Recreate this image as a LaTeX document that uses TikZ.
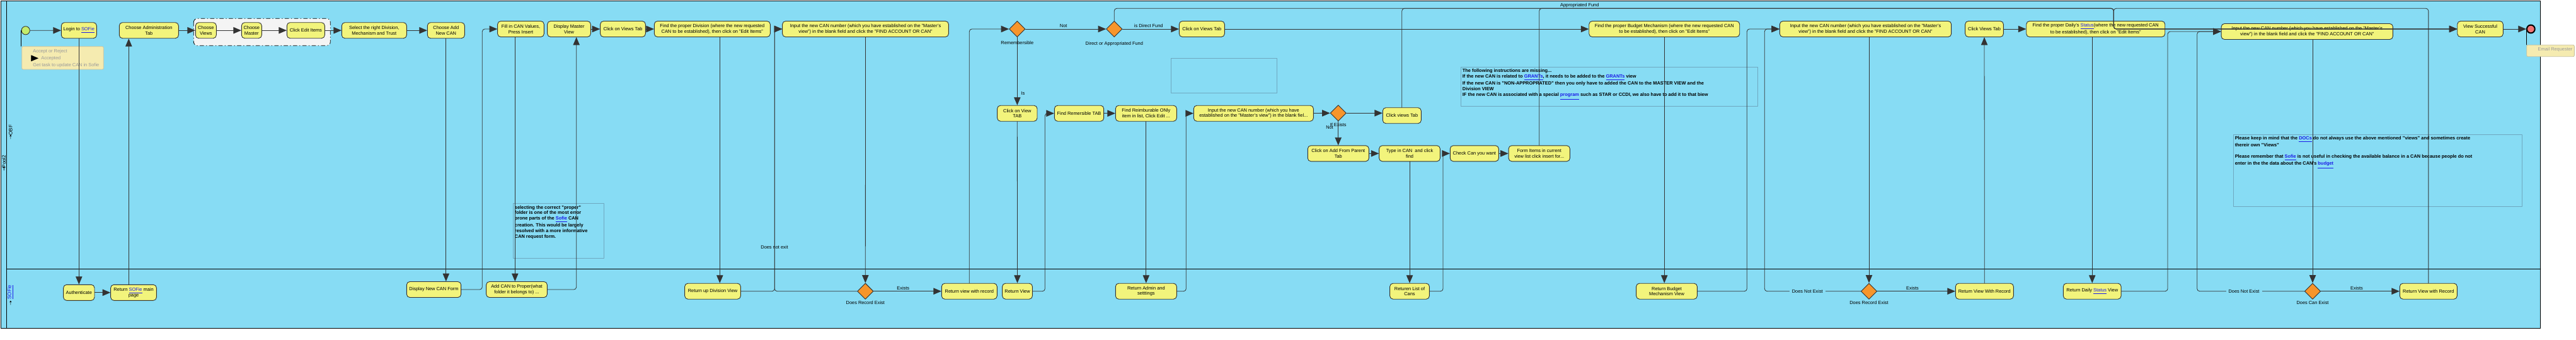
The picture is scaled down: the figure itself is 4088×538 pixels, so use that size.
\documentclass[tikz,border=0pt]{standalone}
\usepackage{fontspec}
\setmainfont{Liberation Sans}
\usepackage{tikz}
\usetikzlibrary{arrows}
\usetikzlibrary{shapes.geometric}
\definecolor{lanefill}{HTML}{87DCF4}
\definecolor{taskfill}{HTML}{F2F47C}
\definecolor{taskline}{HTML}{333333}
\definecolor{gatefill}{HTML}{F7952B}
\definecolor{startfill}{HTML}{C4EC6C}
\definecolor{endfill}{HTML}{F27575}
\definecolor{annotfill}{HTML}{F5EBB0}
\definecolor{annotline}{HTML}{C8C2A0}
\definecolor{annottext}{HTML}{9A9A9A}
\definecolor{groupfill}{HTML}{F4F4F4}
\definecolor{notebd}{HTML}{6FA8C0}
\definecolor{linkblue}{HTML}{1C1CE8}
\newcommand{\lnk}[1]{\textcolor{linkblue}{\underline{#1}}}

\begin{document}
\begin{tikzpicture}[line cap=round,line join=round,>=triangle 45,x=0.5pt,y=-0.5pt,
  every node/.style={font=\fontsize{3.7}{4.35}\selectfont},
  task/.style={draw=taskline,line width=0.45pt,fill=taskfill,rounded corners=2.5pt,align=center,minimum height=12.5pt,inner sep=1pt},
  gate/.style={diamond,draw=taskline,line width=0.45pt,fill=gatefill,minimum width=12.7pt,minimum height=12.7pt,inner sep=0pt},
  flow/.style={->,line width=0.4pt,draw=taskline,rounded corners=2pt},
  lbl/.style={inner sep=0.5pt},
  cut/.style={fill=lanefill,inner sep=2pt},
  annot/.style={draw=annotline,line width=0.4pt,fill=annotfill,rounded corners=1pt,inner sep=0pt},
  annottxt/.style={text=annottext,align=left,inner sep=0pt,font=\fontsize{3.7}{5.5}\selectfont},
  note/.style={draw=notebd,line width=0.4pt},
  notetxt/.style={anchor=north west,align=left,inner sep=0pt,font=\fontsize{3.7}{4.35}\selectfont\bfseries},
  lane/.style={rotate=90,inner sep=0pt,font=\fontsize{4}{4.5}\selectfont}]
\useasboundingbox (0,0) rectangle (4088,538);
\draw[line width=0.5pt,fill=lanefill] (1.5,1.5) rectangle (4031.7,520);
\draw[line width=0.5pt] (10.3,1.5) -- (10.3,520);
\draw[line width=0.5pt] (10.3,426) -- (4031.7,426);
\node[lane] (pool) at (6.2,256) {Pool2};
\node[lane] (obf) at (16.8,206) {OBF};
\node[lane] (sofie) at (16.8,463) {\lnk{SOFie}};
\draw[line width=0.3pt] (6.2,270) -- (6.2,264) (5,266) -- (6.2,264) -- (7.4,266);
\draw[line width=0.3pt] (16.8,220) -- (16.8,214) (15.6,216) -- (16.8,214) -- (18,216);
\draw[line width=0.3pt] (16.8,483) -- (16.8,477) (15.6,479) -- (16.8,477) -- (18,479);
\draw[dash dot,line width=0.4pt,fill=groupfill,rounded corners=3pt] (307.3,29.3) rectangle (524.3,72.3);
\draw[note] (814.3,322.7) rectangle (958.7,409.3);
\draw[note] (1858.3,92.7) rectangle (2026.7,147);
\draw[note] (2318.7,106.7) rectangle (2789.3,168.3);
\draw[note] (3544.3,213.3) rectangle (4002.7,327.7);
\node[notetxt] (folder) at (816.5,325.3) {selecting the correct "proper"\\folder is one of the most error\\prone parts of the \lnk{Sofie} CAN\\creation. This would be largely\\resolved with a more informative\\CAN request form.};
\node[notetxt,font=\fontsize{3.7}{4.5}\selectfont\bfseries] (missing) at (2320.5,108.7) {The following instructions are missing...\\If the new CAN is related to \lnk{GRANTs}, it needs to be added to the \lnk{GRANTs} view\\If the new CAN is "NON-APPROPRATED" then you only have to added the CAN to the MASTER VIEW and the\\Division VIEW\\IF the new CAN is associated with a special \lnk{program} such as STAR or CCDI, we also have to add it to that biew};
\node[notetxt] (docs) at (3546.3,215.7) {Please keep in mind that the \lnk{DOCs} do not always use the above mentioned "views" and sometimes create\\thereir own "Views"\\[4.35pt]Please remember that \lnk{Sofie} is not useful in checking the available balance in a CAN because people do not\\enter in the the data about the CAN's \lnk{budget}};
\node[circle,draw=taskline,fill=startfill,minimum size=6.6pt,inner sep=0pt,line width=0.45pt] (start) at (40.7,48.3) {};
\node[circle,draw=black,fill=endfill,minimum size=6.4pt,inner sep=0pt,line width=1pt] (stop) at (4016.3,46) {};
\node[annot,minimum width=64.8pt,minimum height=18.2pt] (accept) at (99.5,91.85) {};
\node[annottxt,anchor=west] (accepttxt) at (52,92.3) {Accept or Reject\\\hspace*{6.5pt}Accepted\\Get task to update CAN in Sofie};
\draw[->,line width=0.3pt] (50,92.3) -- (61,92.3);
\node[annot,minimum width=37.8pt,minimum height=9.2pt] (email) at (4047.5,80.5) {};
\node[annottxt] (emailtxt) at (4055,78.5) {Email Requester};
\draw[line width=0.4pt] (start.west) -- (start.west |- accept.north);
\draw[line width=0.4pt] (stop.west) -- (stop.west |- email.north);
\node[task,minimum width=28pt] (login) at (125.3,48.2) {Login to \lnk{SOFie}};
\node[task,minimum width=47pt] (admintab) at (236.3,48.2) {Choose Administration\\Tab};
\node[task,minimum width=16.5pt] (views) at (326.8,48.2) {Choose\\Views};
\node[task,minimum width=16pt] (master) at (399.3,48.2) {Choose\\Master};
\node[task,minimum width=30pt] (edititems) at (485.3,48.2) {Click Edit Items};
\node[task,minimum width=51.5pt] (seldiv) at (593.8,48.2) {Select the right Division,\\Mechanism and Trust};
\node[task,minimum width=29.5pt] (addnew) at (707.8,48.2) {Choose Add\\New CAN};
\node[task,minimum width=36.85pt] (fillin) at (826.5,46) {Fill in CAN Values,\\Press Insert};
\node[task,minimum width=34.35pt] (dispmaster) at (903,46) {Display Master\\View};
\node[task,minimum width=35.85pt] (viewstab) at (988.5,46) {Click on Views Tab};
\node[task,minimum width=92pt] (finddiv) at (1130.3,46) {Find the proper Division (where the new requested\\CAN to be established), then click on "Edit Items"};
\node[task,minimum width=131.85pt] (inputdiv) at (1373.5,46) {Input the new CAN number (which you have established on the "Master's\\view") in the blank field and click the "FIND ACCOUNT OR CAN"};
\node[gate,label={[lbl,label distance=2.5pt]below:Remembersible}] (remem) at (1614.3,46) {};
\node[gate,label={[lbl,label distance=3pt]below:Direct or Appropriated Fund}] (dafund) at (1768.3,46) {};
\node[task,minimum width=36pt] (viewstabb) at (1907.3,46) {Click on Views Tab};
\node[task,minimum width=31.65pt] (viewtab) at (1614.3,179.7) {Click on View\\TAB};
\node[task,minimum width=39.15pt] (findrem) at (1712.5,179.7) {Find Remersible TAB};
\node[task,minimum width=48.5pt] (findreimb) at (1818.8,179.7) {Find Reimburable ONly\\item in list, Click Edit ...};
\node[task,minimum width=95pt] (inputrem) at (1989.3,179.7) {Input the new CAN number (which you have\\established on the "Master's view") in the blank fiel...};
\node[gate,label={[lbl,label distance=0.5pt]below:If Exists}] (ifexists) at (2123.7,179.3) {};
\node[task,minimum width=30.5pt] (clickviews) at (2224.8,183.2) {Click views Tab};
\node[task,minimum width=48.5pt] (addparent) at (2123.8,243.3) {Click on Add From Parent\\Tab};
\node[task,minimum width=48.35pt] (typecan) at (2237,243.3) {Type in CAN\ \ and click\\find};
\node[task,minimum width=38.5pt] (checkcan) at (2339.8,243.3) {Check Can you want};
\node[task,minimum width=48.65pt] (formitems) at (2442.7,243.3) {Form Items in current\\view list click insert for...};
\node[task,minimum width=119.5pt] (findbudget) at (2641.2,46) {Find the proper Budget Mechanism (where the new requested CAN\\to be established), then click on "Edit Items"};
\node[task,minimum width=136.15pt] (inputbudget) at (2960.5,46) {Input the new CAN number (which you have established on the "Master's\\view") in the blank field and click the "FIND ACCOUNT OR CAN"};
\node[task,minimum width=30.35pt] (viewstabc) at (3149,46) {Click Views Tab};
\node[task,minimum width=110pt] (finddaily) at (3325.7,46) {Find the proper Daily's \lnk{Status}(where the new requested CAN\\to be established), then click on "Edit Items"};
\node[task,minimum width=136.15pt] (inputdaily) at (3661.2,50) {Input the new CAN number (which you have established on the "Master's\\view") in the blank field and click the "FIND ACCOUNT OR CAN"};
\node[task,minimum width=36.3pt] (viewsucc) at (3936,46) {View Successful\\CAN};
\node[task,minimum width=24.65pt] (auth) at (125.3,463.8) {Authenticate};
\node[task,minimum width=36.35pt] (retmain) at (212,463.8) {Return \lnk{SOFie} main\\page};
\node[task,minimum width=43.15pt] (dispform) at (688.5,459) {Display New CAN Form};
\node[task,minimum width=48.35pt] (addcan) at (820,459) {Add CAN to Proper(what\\folder it belongs to) ...};
\node[task,minimum width=44.35pt] (retdiv) at (1131,461.7) {Return up Division View};
\node[gate,label={[lbl,label distance=0.5pt]below:Does Record Exist}] (recdiv) at (1373.3,461.7) {};
\node[task,minimum width=44pt] (retrec) at (1538.3,461.7) {Return view with record};
\node[task,minimum width=23.85pt] (retview) at (1614.5,461.7) {Return View};
\node[task,minimum width=48.5pt] (retadmin) at (1818.8,461.7) {Return Admin and\\setttings};
\node[task,minimum width=31.35pt] (retlist) at (2237,461.7) {Returen List of\\Cans};
\node[task,minimum width=48.35pt] (retbudget) at (2645,461.7) {Return Budget\\Mechanism View};
\node[gate,label={[lbl,label distance=0.5pt]below:Does Record Exist}] (recbudget) at (2966,461.7) {};
\node[task,minimum width=46pt] (retrecb) at (3149.3,461.7) {Return View With Record};
\node[task,minimum width=45.85pt] (retdaily) at (3320.2,461.7) {Return Daily \lnk{Status} View};
\node[gate,label={[lbl,label distance=0.5pt]below:Does Can Exist}] (canexist) at (3670,461.7) {};
\node[task,minimum width=45.5pt] (retrecc) at (3853.8,461.7) {Return View with Record};
\coordinate (upx) at (204.3,0);
\coordinate (dnx) at (817.3,0);
\coordinate (upy) at (914.7,0);
\coordinate (dnd) at (1142.3,0);
\coordinate (trunk) at (3354.3,13.3);
\coordinate (trunkdn) at (3354.3,46);
\draw[flow] (start) -- (login);
\draw[flow] (login) -- (auth);
\draw[flow] (auth) -- (retmain);
\draw[flow] (retmain.north -| upx) -- (admintab.south -| upx);
\draw[flow] (admintab) -- (views);
\draw[flow] (views) -- (master);
\draw[flow] (master) -- (edititems);
\draw[flow] (edititems) -- (seldiv);
\draw[flow] (seldiv) -- (addnew);
\draw[flow] (addnew.south) -- (addnew.south |- dispform.north);
\draw[flow] (dispform.east) -| (765.3,46) -- (fillin.west);
\draw[flow] (fillin.south -| dnx) -- (addcan.north -| dnx);
\draw[flow] (addcan.east) -| (dispmaster.south -| upy);
\draw[flow] (dispmaster) -- (viewstab);
\draw[flow] (viewstab) -- (finddiv);
\draw[flow] (finddiv.south -| dnd) -- (retdiv.north -| dnd);
\draw[flow] (retdiv.east) -| (1229.3,46) -- (inputdiv.west);
\draw[flow] (inputdiv.south) -- (recdiv.north);
\draw[flow] (recdiv.west) -| (1229.3,46) -- (inputdiv.west);
\draw[flow] (recdiv) -- (retrec);
\draw[flow] (retrec.north) |- (remem.west);
\draw[flow] (remem) -- (dafund);
\draw[flow] (remem) -- (viewtab);
\draw[flow] (viewtab) -- (retview);
\draw[flow] (retview.east) -| (1658.3,179.7) -- (findrem.west);
\draw[flow] (findrem) -- (findreimb);
\draw[flow] (findreimb) -- (retadmin);
\draw[flow] (retadmin.east) -| (1882.3,179.7) -- (inputrem.west);
\draw[flow] (inputrem) -- (ifexists);
\draw[flow] (ifexists.east) -- (ifexists.east -| clickviews.west);
\draw[flow] (ifexists.south) -- (ifexists.south |- addparent.north);
\draw[flow] (addparent) -- (typecan);
\draw[flow] (typecan) -- (retlist);
\draw[flow] (retlist.east) -| (2290,243.3) -- (checkcan.west);
\draw[flow] (checkcan) -- (formitems);
\draw[flow] (dafund) -- (viewstabb);
\draw[flow] (viewstabb) -- (findbudget);
\draw[flow] (dafund.north) |- (trunk) -- (trunkdn) -- (viewsucc.west);
\draw[flow] (clickviews.north) |- (trunk) -- (trunkdn) -- (viewsucc.west);
\draw[flow] (formitems.north) |- (trunk) -- (trunkdn) -- (viewsucc.west);
\draw[flow] (retrecc.north) |- (trunk) -- (trunkdn) -- (viewsucc.west);
\draw[flow] (findbudget.south) -- (findbudget.south |- retbudget.north);
\draw[flow] (retbudget.east) -| (2772.3,46) -- (inputbudget.west);
\draw[flow] (recbudget.west) -| (2800.3,46) -- (inputbudget.west);
\draw[flow] (recbudget.north |- inputbudget.south) -- (recbudget.north);
\draw[flow] (recbudget) -- (retrecb);
\draw[flow] (retrecb) -- (viewstabc);
\draw[flow] (viewstabc) -- (finddaily);
\draw[flow] (retdaily.north |- finddaily.south) -- (retdaily.north);
\draw[flow] (retdaily.east) -| (3440,50) -- (inputdaily.west);
\draw[flow] (canexist.west) -| (3486.7,50) -- (inputdaily.west);
\draw[flow] (canexist.north |- inputdaily.south) -- (canexist.north);
\draw[flow] (canexist) -- (retrecc);
\draw[flow] (viewsucc) -- (stop);
\node[lbl] (lnotexit) at (1229,391.7) {Does not exit};
\node[lbl] (lexists) at (1433.3,456.7) {Exists};
\node[lbl] (lnot) at (1687.7,41) {Not};
\node[lbl] (lis) at (1623.3,148) {Is};
\node[lbl] (ldirect) at (1822.7,41) {is Direct Fund};
\node[lbl] (lapprop) at (2506.7,9) {Appropriated Fund};
\node[lbl] (lnotb) at (2110,202.3) {Not};
\node[cut] (lnoexist) at (2868.3,461.7) {Does Not Exist};
\node[lbl] (lexistsb) at (3035,456.7) {Exists};
\node[cut] (lnoexistb) at (3561,461.7) {Does Not Exist};
\node[lbl] (lexistsc) at (3740,456.7) {Exists};
\end{tikzpicture}
\end{document}
